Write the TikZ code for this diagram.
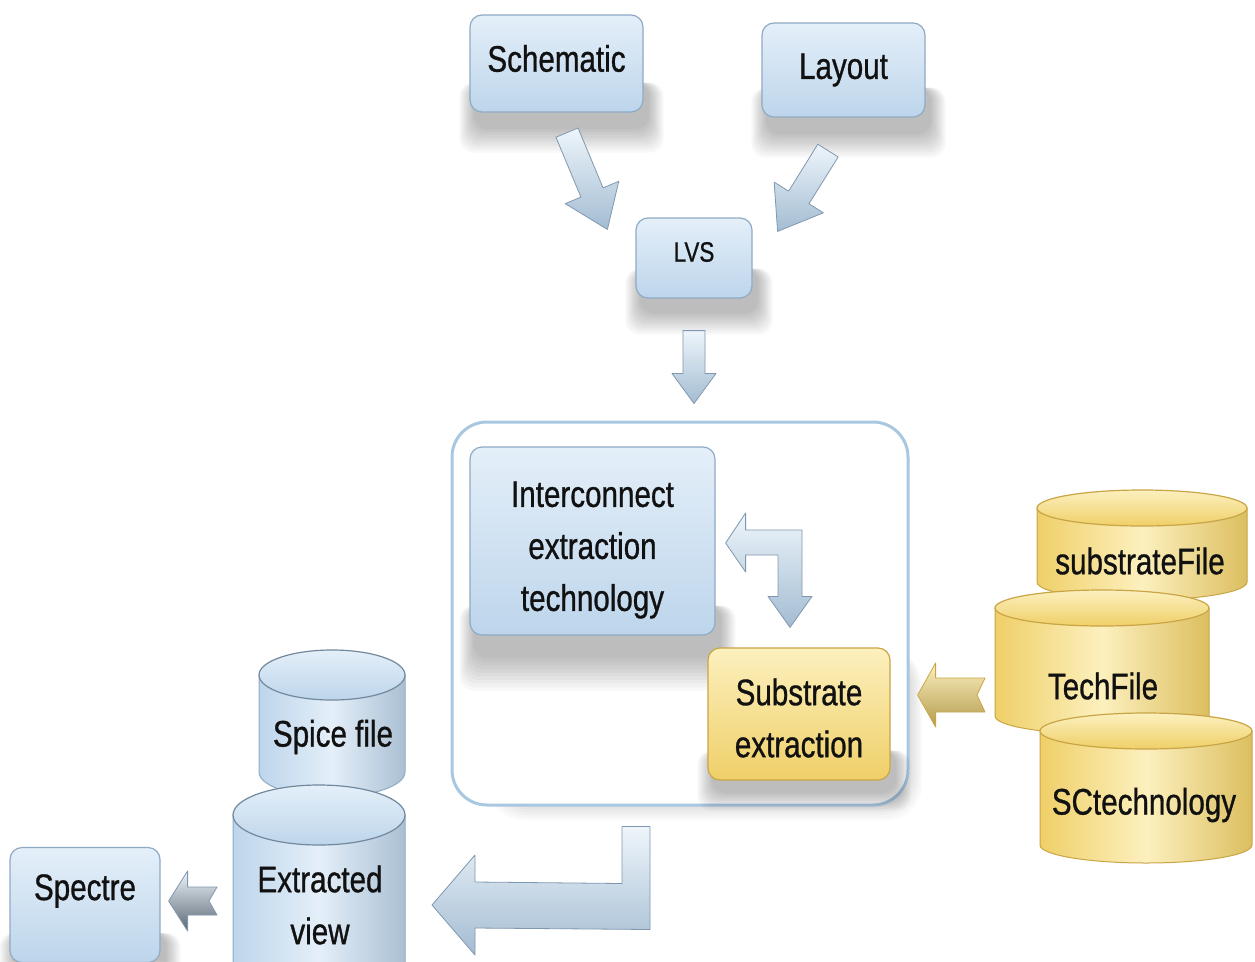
\documentclass[tikz,border=0pt]{standalone}
\usepackage{fontspec}
\setmainfont{Liberation Sans}[FakeStretch=0.8,FakeBold=0.8]
\usetikzlibrary{calc}
\pgfdeclarelayer{bglayer}
\pgfdeclarelayer{shadowlayer}
\pgfsetlayers{bglayer,shadowlayer,main}
\definecolor{bluetop}{HTML}{E4EFF9}
\definecolor{bluebot}{HTML}{BDD5EB}
\definecolor{blueedge}{HTML}{8FAAC4}
\definecolor{yeltop}{HTML}{FCF0BE}
\definecolor{yelbot}{HTML}{EFCF68}
\definecolor{yeledge}{HTML}{C9A545}
\definecolor{contedge}{HTML}{A8C7E1}
\definecolor{arrtop}{HTML}{EEF5FB}
\definecolor{arrbot}{HTML}{A3BCD2}
\definecolor{arredge}{HTML}{8098AF}
\definecolor{txtc}{HTML}{111111}
\newcommand{\bigtxt}{\fontsize{37}{52}\selectfont}
\newcommand{\blockarrow}[7]{%
  \coordinate (bab) at ($(#3)!#6!(#2)$);
  \coordinate (ban) at ($(#2)!#7!(#3)$);
  \draw[#1] (#3) -- ($(bab)!#5!90:(#3)$) -- ($(bab)!#4!90:(#3)$) -- ($(#2)!#4!90:(#3)$)
    -- (ban) -- ($(#2)!#4!-90:(#3)$) -- ($(bab)!#4!-90:(#3)$) -- ($(bab)!#5!-90:(#3)$) -- cycle;
}
\newcommand{\cylshape}[6]{%
  \path[cylbody#1] (#2-#5,#3) -- (#2-#5,#4) arc[start angle=180,end angle=360,x radius=#5pt,y radius=#6pt] -- (#2+#5,#3) -- cycle;
  \path[cyltop#1] (#2,#3) ellipse[x radius=#5pt, y radius=#6pt];
}
% soft shadow below a node: node name, depth below bottom edge
\newcommand{\softshadow}[2]{%
  \foreach \i in {1,...,10} {%
    \fill[black, opacity=0.026, rounded corners=14pt]
      ($(#1.south west)+(6-\i*1.6,-30)$) rectangle ($(#1.south east)+(4+\i*1.6,{#2*0.35+\i*#2*0.065})$);
  }%
}
\tikzset{
  bluebox/.style={rounded corners=12pt, draw=blueedge, line width=1.2pt, top color=bluetop, bottom color=bluebot, text=txtc, font=\bigtxt, align=center, inner sep=0pt},
  yelbox/.style={rounded corners=12pt, draw=yeledge, line width=1.2pt, top color=yeltop, bottom color=yelbot, text=txtc, font=\bigtxt, align=center, inner sep=0pt},
  lbl/.style={text=txtc, font=\bigtxt, align=center, inner sep=0pt},
  blockfill/.style={top color=arrtop, bottom color=arrbot, draw=arredge, line width=0.8pt, line join=round},
  darkfill/.style={top color=arrtop, bottom color=black!45!arrbot, draw=arredge, line width=0.8pt, line join=round},
  yelfill/.style={top color=yeltop, bottom color=yelbot!75!black, draw=yeledge, line width=0.8pt, line join=round},
  cylbodyB/.style={left color=bluebot, right color=bluebot!90!black, middle color=bluetop, draw=blueedge, line width=1pt},
  cyltopB/.style={top color=bluetop, bottom color=bluebot, draw=blueedge!80!black, line width=1.2pt},
  cylbodyY/.style={left color=yelbot, right color=yelbot!92!black, middle color=yeltop, draw=yeledge, line width=1pt},
  cyltopY/.style={top color=yeltop, bottom color=yelbot, draw=yeledge, line width=1.2pt},
}
\begin{document}
\begin{tikzpicture}[x=1pt,y=-1pt]
\useasboundingbox (0,0) rectangle (1255,961);
\clip (0,0) rectangle (1255,961);

% page and container (lowest layer)
\begin{pgfonlayer}{bglayer}
\fill[white] (0,0) rectangle (1255,961);
\foreach \i in {1,...,6} {\fill[black, opacity=0.02, rounded corners=35pt] (500-\i*2,650) rectangle (910+\i*2,805+\i*2.5);}
\node[draw=contedge, line width=3pt, rounded corners=35pt, minimum width=456, minimum height=383, fill=white] (cont) at (680,613.5) {};
\end{pgfonlayer}

% top boxes
\node[bluebox, minimum width=173, minimum height=97, label={[lbl,yshift=5pt,name=schT]center:Schematic}] (sch) at (556.5,63.5) {};
\node[bluebox, minimum width=163, minimum height=94] (lay) at (843.5,70) {Layout};
\node[bluebox, minimum width=116, minimum height=80, label={[lbl,yshift=6pt,font=\fontsize{28}{34}\selectfont,name=lvsT]center:LVS}] (lvs) at (694,258) {};

\node[bluebox, minimum width=245, minimum height=188, label={[lbl,yshift=-9pt,name=interT]center:{Interconnect\\extraction\\technology}}] (inter) at (592.5,541) {};
\node[yelbox, minimum width=182, minimum height=132, label={[lbl,yshift=-4pt,name=subxT]center:{Substrate\\extraction}}] (subx) at (799,714) {};

% spectre
\node[bluebox, minimum width=150, minimum height=115] (spectre) at (85,905) {};
\node[lbl] (spectreT) at (85,891) {Spectre};

% shadows
\begin{pgfonlayer}{shadowlayer}
\softshadow{sch}{40}
\softshadow{lay}{40}
\softshadow{lvs}{36}
\softshadow{inter}{55}
\softshadow{subx}{30}
\softshadow{spectre}{30}
\end{pgfonlayer}

% arrows top
\coordinate (a1t) at ($(sch.south)+(10.5,20)$);
\coordinate (a1h) at ($(lvs.north west)+(-28,12)$);
\blockarrow{blockfill}{a1t}{a1h}{12pt}{29pt}{40pt}{0pt}
\coordinate (a2t) at ($(lay.south)+(-15.5,33)$);
\coordinate (a2h) at ($(lvs.north east)+(25,14)$);
\blockarrow{blockfill}{a2t}{a2h}{12pt}{29pt}{40pt}{0pt}
\coordinate (a3t) at ($(lvs.south)+(0,32)$);
\coordinate (a3h) at ($(lvs.south |- cont.north)+(0,-17)$);
\blockarrow{blockfill}{a3t}{a3h}{11pt}{22pt}{30pt}{0pt}

% elbow double arrow inside container
\coordinate (e1) at ($(inter.east)+(10,2)$);
\coordinate (e2) at ($(subx.north)+(-9,-20)$);
\draw[blockfill] (e1) -- ($(e1)+(20,-30)$) -- ($(e1)+(20,-13)$) -- ($(e2|-e1)+(12,-13)$)
  -- ($(e2)+(12,-31)$) -- ($(e2)+(22,-31)$) -- (e2) -- ($(e2)+(-22,-31)$) -- ($(e2)+(-12,-31)$)
  -- ($(e2|-e1)+(-12,12)$) -- ($(e1)+(20,12)$) -- ($(e1)+(20,29)$) -- cycle;

% yellow cylinders
\cylshape{Y}{1142}{508}{582}{105}{18}
\node[lbl] (subfT) at (1140,561) {substrateFile};
\cylshape{Y}{1102}{608}{716}{107}{18}
\node[lbl] (techT) at (1103,686) {TechFile};
\cylshape{Y}{1146}{731}{845}{106}{18}
\node[lbl] (sctT) at (1144,805) {SCtechnology};

% yellow arrow
\coordinate (y1t) at (985,695);
\coordinate (y1h) at ($(subx.east)+(27,-19)$);
\blockarrow{yelfill}{y1t}{y1h}{17pt}{32pt}{18pt}{8pt}

% blue cylinders
\cylshape{B}{332}{675}{772}{73}{25}
\node[lbl] (spiceT) at (333,737) {Spice file};
\cylshape{B}{319}{815}{1000}{86}{30}
\node[lbl] (extvT) at (320,905) {Extracted\\view};

% spectre arrow
\coordinate (s1t) at (217,901);
\coordinate (s1h) at ($(spectre.east)+(8,-4)$);
\blockarrow{darkfill}{s1t}{s1h}{14pt}{30pt}{19pt}{8pt}

% big elbow arrow
\coordinate (b1) at (432,905);
\coordinate (b2) at ($(cont.south)+(-44,20)$);
\draw[blockfill] (b1) -- ($(b1)+(43,-50)$) -- ($(b1)+(43,-23)$) -- ($(b2)+(-14,57)$) -- ($(b2)+(-14,0)$)
  -- ($(b2)+(14,0)$) -- ($(b2)+(14,103)$) -- ($(b1)+(43,23)$) -- ($(b1)+(43,50)$) -- cycle;
\end{tikzpicture}
\end{document}
